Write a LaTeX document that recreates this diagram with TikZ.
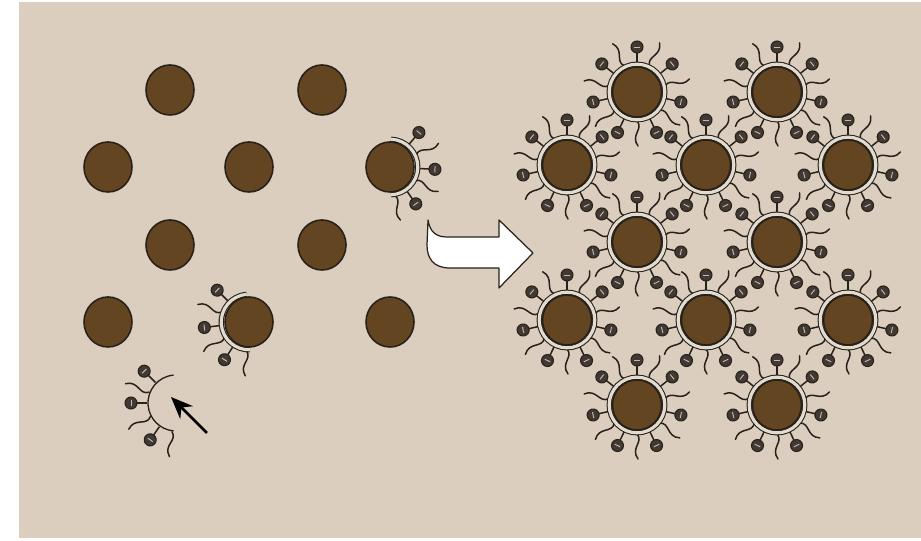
\documentclass[tikz,border=0pt]{standalone}
\usetikzlibrary{arrows.meta}

\definecolor{sand}{RGB}{219,206,191}
\definecolor{umber}{RGB}{99,70,33}
\definecolor{ink}{RGB}{40,33,26}
\definecolor{headgrey}{RGB}{66,58,50}
\definecolor{ringfill}{RGB}{226,219,208}

\tikzset{
  grain/.style={fill=umber, draw=ink, line width=0.9pt},
  ring/.style={draw=ink, line width=0.6pt, double=ringfill, double distance=1.8pt},
  halfring/.style={draw=ink, line width=0.75pt},
  tail/.style={draw=ink, line width=0.85pt, line cap=round},
  stem/.style={draw=ink, line width=0.85pt},
  head/.style={fill=headgrey, draw=ink, line width=0.6pt},
  glint/.style={draw=white!65!headgrey, line width=0.55pt},
  bigarrow/.style={fill=white, draw=ink, line width=0.7pt, line join=round},
  pointer/.style={-{Stealth[length=4.4mm, width=3.6mm]}, line width=1.5pt, draw=black}
}

% ligand with a charged head, pointing along angle #1
\newcommand\headarm[1]{%
  \draw[stem] (#1:29) -- (#1:39);
  \begin{scope}[shift={(#1:45)}, rotate=#1]
    \filldraw[head] (0,0) circle (6);
    \draw[glint] (0,-3) -- (0,3);
  \end{scope}}
% wavy ligand tail along angle #1
\newcommand\tailarm[1]{%
  \draw[tail, rotate=#1] (29,0) .. controls (37,7) and (43,-7) .. (54,1);}
% fully coated core at (#1,#2)
\newcommand\coated[2]{%
  \begin{scope}[shift={(#1,#2)}]
    \foreach \k in {0,...,13}{%
      \pgfmathsetmacro\ang{90+\k*360/14}
      \ifodd\k\relax \tailarm{\ang}\else \headarm{\ang}\fi}
    \draw[ring] (0,0) circle (27.8);
    \draw[grain] (0,0) ellipse (24.5 and 25);
  \end{scope}}

\begin{document}
\begin{tikzpicture}[x=0.2mm, y=0.2mm]
  \useasboundingbox (0,0) rectangle (921,541);
  \fill[white] (0,0) rectangle (921,541);
  \fill[sand] (19,3) rectangle (921,539);

  % loose cores
  \foreach \x/\y in {170/451, 322/451, 108/374, 249/374, 170/296, 322/296, 108/219, 390/219}
    \draw[grain] (\x,\y) ellipse (24 and 25);

  % core picking up ligands on its right side
  \begin{scope}[shift={(390,374)}]
    \foreach \a in {50,-3,-55} {\headarm{\a}}
    \foreach \a in {25,-28,-80} {\tailarm{\a}}
    \draw[ring] (88:27.8) arc[start angle=88, end angle=-88, radius=27.8];
    \draw[grain] (0,0) ellipse (24 and 25);
  \end{scope}

  % core coated on its left side
  \begin{scope}[shift={(249,219)}]
    \foreach \a in {135,187,237} {\headarm{\a}}
    \foreach \a in {160,212,265} {\tailarm{\a}}
    \draw[ring] (95:27.8) arc[start angle=95, end angle=272, radius=27.8];
    \draw[grain] (0,0) ellipse (24 and 25);
  \end{scope}

  % free half shell
  \begin{scope}[shift={(176,138)}]
    \foreach \a in {135,180,235} {\headarm{\a}}
    \foreach \a in {158,208,262} {\tailarm{\a}}
    \draw[halfring] (95:28) arc[start angle=95, end angle=265, radius=28];
  \end{scope}
  \coordinate (tip) at (171,144);
  \coordinate (from) at (207,108);
  \draw[pointer] (from) -- (tip);

  % packed coated cores
  \foreach \x/\y in {637/449, 777/449, 567/376, 706/376, 848/376, 637/299, 777/299,
                     567/221, 706/221, 848/221, 637/136, 777/136}
    \coated{\x}{\y};

  % block arrow
  \draw[bigarrow] (428,321) .. controls (430,309) and (436,304) .. (447,304)
    -- (499,304) -- (499,321) -- (533,288) -- (499,253) -- (499,273) -- (450,273)
    .. controls (433,273) and (427,283) .. (427,296) -- cycle;
\end{tikzpicture}
\end{document}
